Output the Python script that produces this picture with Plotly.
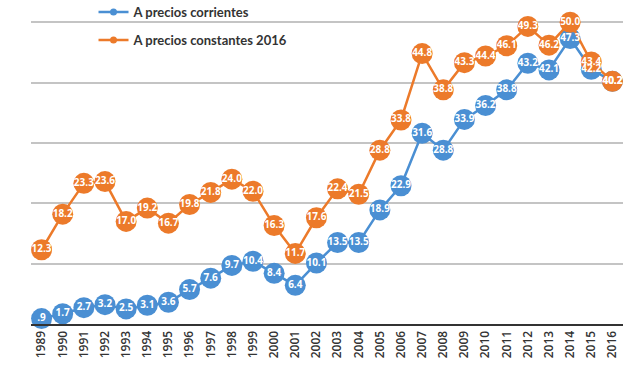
import plotly.graph_objects as go

years = [str(y) for y in range(1989, 2017)]
corrientes = [0.9, 1.7, 2.7, 3.2, 2.5, 3.1, 3.6, 5.7, 7.6, 9.7, 10.4, 8.4, 6.4, 10.1,
              13.5, 13.5, 18.9, 22.9, 31.6, 28.8, 33.9, 36.2, 38.8, 43.2, 42.1, 47.3, 42.2, 40.2]
constantes = [12.3, 18.2, 23.3, 23.6, 17.0, 19.2, 16.7, 19.8, 21.8, 24.0, 22.0, 16.3, 11.7, 17.6,
              22.4, 21.5, 28.8, 33.8, 44.8, 38.8, 43.3, 44.4, 46.1, 49.3, 46.2, 50.0, 43.4, 40.2]
names = ["A precios corrientes", "A precios constantes 2016"]
colors = ["#4A8FD3", "#EC7A2A"]


def fmt(v):
    s = f"{v:.1f}"
    return s[1:] if s.startswith("0.") else s


series = [(corrientes, names[0], colors[0]), (constantes, names[1], colors[1])]

fig = go.Figure()
# lines and markers
for vals, name, col in series:
    fig.add_trace(go.Scatter(
        x=years, y=vals, mode="lines+markers", name=name,
        line=dict(color=col, width=2.5),
        marker=dict(color=col, size=21),
        showlegend=False, cliponaxis=False,
    ))
# value labels drawn above all markers
for vals, name, col in series:
    fig.add_trace(go.Scatter(
        x=years, y=vals, mode="text", name=name,
        text=[fmt(v) for v in vals], textposition="middle center",
        textfont=dict(color="white", size=10, family="Open Sans", weight=700),
        showlegend=False, cliponaxis=False, hoverinfo="skip",
    ))

for i, (name, col) in enumerate(zip(names, colors)):
    fig.add_trace(go.Scatter(
        x=[None], y=[None], mode="lines+markers", name=name,
        line=dict(color=col, width=2.5), marker=dict(color=col, size=7),
        legendgroup=f"g{i}", showlegend=True,
    ))

fig.update_layout(
    width=640, height=369,
    margin=dict(l=31, r=17, t=21, b=45, autoexpand=False),
    paper_bgcolor="white", plot_bgcolor="white",
    showlegend=True,
    legend=dict(
        x=0.1056, xanchor="left", y=1.079, yanchor="top",
        bgcolor="rgba(0,0,0,0)", traceorder="grouped", tracegroupgap=8,
        font=dict(family="Lato", size=13, color="#333333", weight=700),
    ),
    xaxis=dict(
        type="category", range=[-0.5, 27.5], tickangle=-90, automargin=False,
        showgrid=False, showline=True, linecolor="#333333", linewidth=2,
        ticks="", tickfont=dict(family="Open Sans", size=12, color="#333333", weight=600),
    ),
    yaxis=dict(
        range=[0, 50.2], tickvals=[10, 20, 30, 40, 50], showticklabels=False, zeroline=False,
        automargin=False,
        showgrid=True, gridcolor="#C4C4C4", gridwidth=1.5, showline=False,
    ),
)

fig.write_html(
    "out.html",
    config={"displayModeBar": False},
    post_script="document.body.style.margin='0';document.body.style.overflow='hidden';",
)
